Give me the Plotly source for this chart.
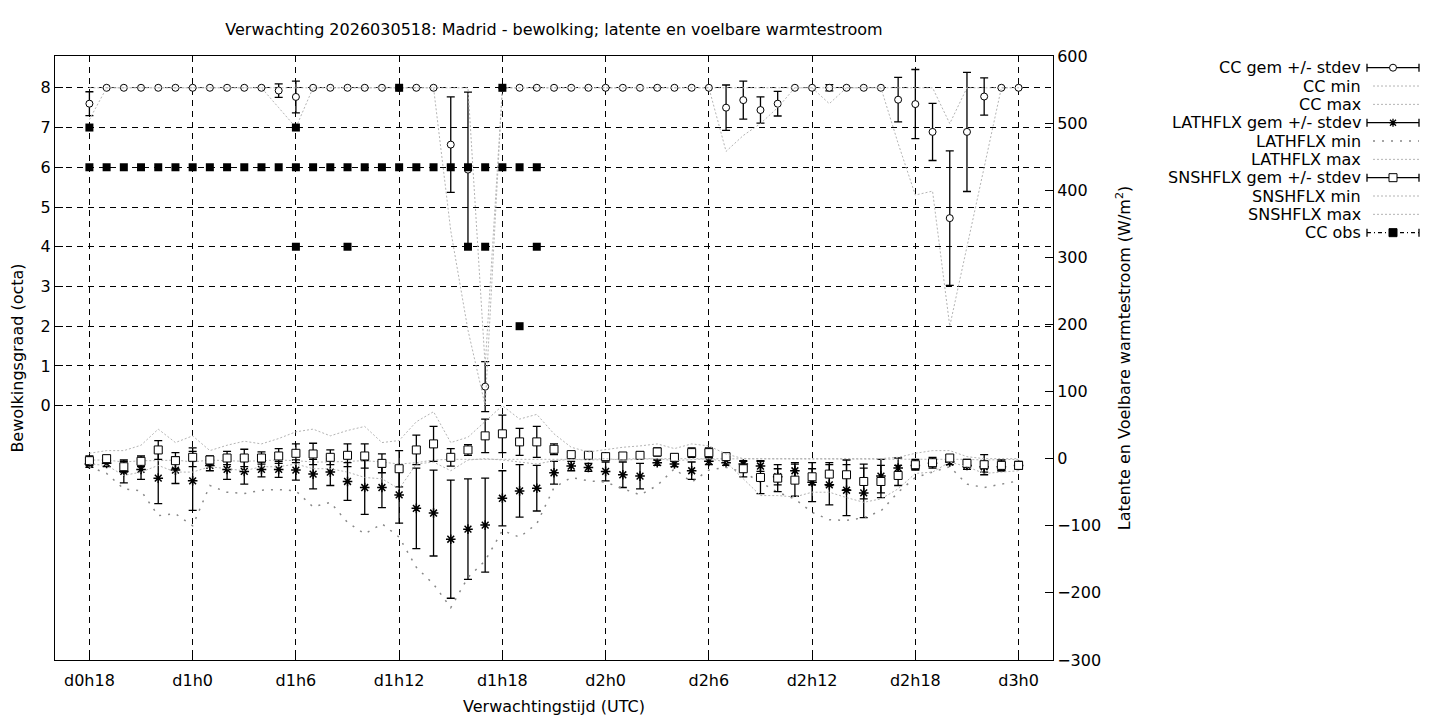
"""Ensemble-verwachting bewolking en warmtestroom, Madrid."""
import plotly.graph_objects as go

# uren sinds d0h0
uur = [18, 19, 20, 21, 22, 23,
       24, 25, 26, 27, 28, 29,
       30, 31, 32, 33, 34, 35,
       36, 37, 38, 39, 40, 41,
       42, 43, 44, 45, 46, 47,
       48, 49, 50, 51, 52, 53,
       54, 55, 56, 57, 58, 59,
       60, 61, 62, 63, 64, 65,
       66, 67, 68, 69, 70, 71,
       72]

tijd_ticks = [18, 24, 30, 36, 42, 48, 54, 60, 66, 72]
tijd_labels = ["d0h18", "d1h0", "d1h6", "d1h12", "d1h18",
               "d2h0", "d2h6", "d2h12", "d2h18", "d3h0"]
octa_ticks = [0, 1, 2, 3, 4, 5, 6, 7, 8]
flux_ticks = [-300, -200, -100, 0, 100, 200, 300, 400, 500, 600]

# bewolking (octa)
cc_gem = [7.6, 8, 8, 8, 8, 8,
          8, 8, 8, 8, 8, 7.93,
          7.77, 8, 8, 8, 8, 8,
          8, 8, 8, 6.57, 5.94, 0.48,
          8, 8, 8, 8, 8, 8,
          8, 8, 8, 8, 8, 8,
          8, 7.5, 7.69, 7.44, 7.6, 8,
          8, 8, 8, 8, 8, 7.7,
          7.59, 6.89, 4.72, 6.89, 7.78, 8,
          8]
cc_sd = [0.3, 0, 0, 0, 0, 0,
         0, 0, 0, 0, 0, 0.17,
         0.4, 0, 0, 0, 0, 0,
         0, 0, 0, 1.2, 1.95, 0.63,
         0, 0, 0, 0, 0, 0,
         0, 0, 0, 0, 0, 0,
         0, 0.57, 0.48, 0.33, 0.31, 0,
         0, 0.08, 0, 0, 0, 0.56,
         0.87, 0.72, 1.69, 1.5, 0.47, 0,
         0]
cc_min = [7.2, 8, 8, 8, 8, 8,
          8, 8, 8, 8, 8, 7.5,
          7.0, 8, 8, 8, 8, 8,
          8, 8, 8, 4.4, 1.9, 0,
          8, 8, 8, 8, 8, 8,
          8, 8, 8, 8, 8, 8,
          8, 6.4, 6.8, 7.1, 7.5, 8,
          8, 7.6, 8, 8, 8, 6.6,
          5.3, 5.4, 2.0, 4.0, 6.0, 8,
          8]
cc_max = [8, 8, 8, 8, 8, 8,
          8, 8, 8, 8, 8, 8,
          8, 8, 8, 8, 8, 8,
          8, 8, 8, 8, 8, 1.0,
          8, 8, 8, 8, 8, 8,
          8, 8, 8, 8, 8, 8,
          8, 8, 8, 8, 8, 8,
          8, 8, 8, 8, 8, 8,
          8, 8, 7.1, 8, 8, 8,
          8]

# waarnemingen (meerdere per uur mogelijk)
obs_uur = [18, 18, 19, 20, 21, 22, 23, 24, 25, 26, 27, 28, 29,
           30, 30, 30, 31, 32, 33, 33, 34, 35, 36, 36, 37, 38, 39,
           40, 40, 41, 41, 42, 42, 43, 43, 44, 44]
obs_cc = [7, 6, 6, 6, 6, 6, 6, 6, 6, 6, 6, 6, 6,
          7, 6, 4, 6, 6, 6, 4, 6, 6, 8, 6, 6, 6, 6,
          6, 4, 6, 4, 8, 6, 6, 2, 6, 4]

# latente warmtestroom (W/m2)
lat_gem = [-8, -7, -19, -16, -29, -17,
           -33, -10, -16, -19, -16, -16,
           -17, -23, -20, -34, -43, -43,
           -54, -74, -81, -120, -105, -99,
           -59, -48, -44, -21, -11, -13,
           -19, -24, -26, -6, -8, -18,
           -4, -6, -8, -11, -27, -18,
           -35, -39, -47, -51, -26, -14,
           -10, -7, -5, -10, -12, -12,
           -10]
lat_sd = [5, 5, 17, 15, 38, 20,
          44, 8, 15, 19, 11, 12,
          15, 22, 20, 28, 40, 30,
          42, 60, 64, 88, 75, 70,
          41, 39, 34, 17, 7, 6,
          14, 19, 19, 4, 4, 13,
          5, 4, 4, 8, 12, 12,
          29, 30, 38, 37, 25, 15,
          6, 5, 4, 6, 8, 6,
          5]
lat_min = [-12, -22, -45, -48, -85, -82,
           -100, -40, -50, -52, -47, -46,
           -48, -72, -65, -95, -112, -97,
           -117, -162, -187, -222, -177, -152,
           -107, -117, -97, -43, -28, -33,
           -35, -45, -54, -40, -15, -35,
           -17, -13, -20, -35, -50, -60,
           -80, -91, -92, -88, -78, -50,
           -28, -20, -12, -38, -43, -38,
           -33]
lat_max = [-2, -2, -5, -3, -3, -2,
           -5, -2, -3, -4, -3, -2,
           -3, -5, -5, -4, -3, -5,
           -8, -6, -2, -1, -1, 0,
           0, 0, -1, 0, -1, -2,
           -1, 0, 0, 0, 0, 0,
           0, 0, 0, 0, 0, 0,
           0, 0, -1, -1, 0, 0,
           -1, -1, 0, -1, -2, -2,
           -1]

# voelbare warmtestroom (W/m2)
sns_gem = [-3, 0, -12, -4, 13, -3,
           2, -2, 1, 1, 1, 4,
           8, 7, 2, 5, 4, -7,
           -15, 13, 22, 2, 13, 34,
           37, 25, 25, 14, 6, 5,
           3, 4, 5, 10, 2, 9,
           9, 3, -15, -28, -29, -32,
           -27, -23, -24, -34, -34, -25,
           -9, -6, 1, -7, -9, -10,
           -10]
sns_sd = [7, 5, 8, 8, 14, 12,
          14, 6, 10, 13, 9, 11,
          14, 16, 11, 17, 18, 14,
          27, 22, 26, 13, 8, 25,
          28, 20, 23, 8, 3, 3,
          4, 5, 5, 6, 5, 7,
          7, 3, 12, 24, 20, 24,
          12, 17, 22, 26, 24, 15,
          8, 8, 4, 6, 15, 8,
          6]
sns_min = [-8, -10, -25, -20, -10, -20,
           -20, -12, -15, -18, -12, -12,
           -8, -15, -15, -20, -28, -30,
           -45, -8, -5, -18, -2, 0,
           -2, -5, -8, -3, -1, -1,
           0, -2, -1, 0, -3, -2,
           0, -5, -30, -55, -55, -57,
           -50, -50, -58, -65, -60, -45,
           -22, -20, -5, -12, -22, -20,
           -18]
sns_max = [8, 12, 12, 20, 44, 24,
           34, 12, 20, 26, 22, 30,
           40, 44, 34, 42, 48, 24,
           27, 55, 70, 24, 32, 56,
           79, 59, 66, 37, 17, 10,
           14, 17, 19, 22, 15, 22,
           19, 7, 0, 0, 0, 0,
           0, 0, 0, 0, 0, 2,
           8, 12, 12, 3, 0, 0,
           0]

# de pagina heeft 8px body-marge, dus figuur iets kleiner en marges verschoven
PAGINA = 8
W, H = 1424, 712
ML, MT = 47, 48
PW, PH = 998, 604
MR, MB = W - ML - PW, H - MT - PH
FONT = "DejaVu Sans"
FS = 16
GRIJS = "#b4b4b4"
FIJN = "2px,2px"


def gem_trace(y, sd, marker, yaxis):
    return go.Scatter(
        x=uur, y=y, mode="markers", yaxis=yaxis,
        marker=marker,
        error_y=dict(type="data", array=sd, visible=True,
                     color="black", thickness=1.3, width=4),
    )


def lijn_trace(y, yaxis, color=GRIJS, dash=FIJN, width=1):
    return go.Scatter(x=uur, y=y, mode="lines", yaxis=yaxis,
                      line=dict(color=color, width=width, dash=dash))


fig = go.Figure()
fig.add_trace(gem_trace(cc_gem, cc_sd, dict(symbol="circle", size=7, color="white",
                                            line=dict(color="black", width=1)), "y"))
fig.add_trace(lijn_trace(cc_min, "y"))
fig.add_trace(lijn_trace(cc_max, "y"))
fig.add_trace(gem_trace(lat_gem, lat_sd, dict(symbol="asterisk-open", size=8, color="black",
                                              line=dict(color="black", width=1.5)), "y2"))
fig.add_trace(lijn_trace(lat_min, "y2", color="#888888", dash="2px,7px", width=1.5))
fig.add_trace(lijn_trace(lat_max, "y2"))
fig.add_trace(gem_trace(sns_gem, sns_sd, dict(symbol="square", size=8, color="white",
                                              line=dict(color="black", width=1)), "y2"))
fig.add_trace(lijn_trace(sns_min, "y2"))
fig.add_trace(lijn_trace(sns_max, "y2"))
fig.add_trace(go.Scatter(x=obs_uur, y=obs_cc, mode="markers", yaxis="y",
                         marker=dict(symbol="square", size=8, color="black")))

as_stijl = dict(showline=True, linecolor="black", linewidth=1, zeroline=False,
                ticks="inside", ticklen=8, tickcolor="black",
                tickfont=dict(family=FONT, size=FS, color="black"),
                title_font=dict(family=FONT, size=FS, color="black"))
grid = dict(showgrid=True, gridcolor="black", gridwidth=1, griddash="6px,5px")

fig.update_layout(
    width=W, height=H,
    template="none",
    showlegend=False,
    paper_bgcolor="white", plot_bgcolor="white",
    margin=dict(l=ML, r=MR, t=MT, b=MB),
    font=dict(family=FONT, size=FS, color="black"),
    title=dict(text="Verwachting 2026030518: Madrid - bewolking; latente en voelbare warmtestroom",
               x=0.5, xref="paper", xanchor="center",
               y=1 - (29 - PAGINA) / H, yref="container", yanchor="middle",
               font=dict(family=FONT, size=FS, color="black")),
    xaxis=dict(range=[16, 74], tickvals=tijd_ticks, ticktext=tijd_labels,
               mirror=True, ticklabelstandoff=6,
               automargin=False, **as_stijl, **grid),
    yaxis=dict(range=[-6.4, 8.8], tickvals=octa_ticks,
               title=dict(text="Bewolkingsgraad (octa)", standoff=14),
               automargin=False, **as_stijl, **grid),
    yaxis2=dict(range=[-300, 600], tickvals=flux_ticks, overlaying="y", side="right",
                showgrid=False, automargin=False,
                title=dict(text="Latente en Voelbare warmtestroom (W/m<sup>2</sup>)", standoff=18),
                **as_stijl),
)


# posities in paginapixels omrekenen naar paper-coordinaten
def px(xp):
    return (xp - PAGINA - ML) / PW


def py(yp):
    return (H - MB - (yp - PAGINA)) / PH


fig.add_annotation(x=0.5, y=py(706), xref="paper", yref="paper",
                   text="Verwachtingstijd (UTC)", showarrow=False,
                   xanchor="center", yanchor="middle",
                   font=dict(family=FONT, size=FS, color="black"))

# legenda in gnuplot-stijl: tekst rechts uitgelijnd, voorbeeld erachter
tekst_x = px(1363)
x0, x1, xm = px(1367), px(1419), px(1393)
rij_y0, rij_stap = 67.7, 18.33

legenda = [
    ("CC gem +/- stdev", "fout", "circle"),
    ("CC min", "fijn", None),
    ("CC max", "fijn", None),
    ("LATHFLX gem +/- stdev", "fout", "asterisk"),
    ("LATHFLX min", "grof", None),
    ("LATHFLX max", "fijn", None),
    ("SNSHFLX gem +/- stdev", "fout", "square"),
    ("SNSHFLX min", "fijn", None),
    ("SNSHFLX max", "fijn", None),
    ("CC obs", "obs", "filled"),
]

for i, (label, stijl, symbool) in enumerate(legenda):
    y = py(rij_y0 + i * rij_stap)
    fig.add_annotation(x=tekst_x, y=y, xref="paper", yref="paper", text=label,
                       showarrow=False, xanchor="right", yanchor="middle",
                       font=dict(family=FONT, size=FS, color="black"))
    if stijl in ("fout", "obs"):
        dash = "solid" if stijl == "fout" else "4px,3px,1px,3px"
        fig.add_shape(type="line", xref="paper", yref="paper", x0=x0, x1=x1, y0=y, y1=y,
                      line=dict(color="black", width=1.3, dash=dash))
        for xc in (x0, x1):
            fig.add_shape(type="line", xref="paper", yref="paper", x0=xc, x1=xc,
                          ysizemode="pixel", yanchor=y, y0=-4, y1=4,
                          line=dict(color="black", width=1.3))
        if symbool == "circle":
            fig.add_shape(type="circle", xref="paper", yref="paper",
                          xsizemode="pixel", ysizemode="pixel", xanchor=xm, yanchor=y,
                          x0=-3.5, x1=3.5, y0=-3.5, y1=3.5,
                          fillcolor="white", line=dict(color="black", width=1))
        elif symbool == "asterisk":
            fig.add_shape(type="path", xref="paper", yref="paper",
                          xsizemode="pixel", ysizemode="pixel", xanchor=xm, yanchor=y,
                          path="M-4,0L4,0M0,-4L0,4M-3,-3L3,3M-3,3L3,-3",
                          line=dict(color="black", width=1.3))
        else:
            fig.add_shape(type="rect", xref="paper", yref="paper",
                          xsizemode="pixel", ysizemode="pixel", xanchor=xm, yanchor=y,
                          x0=-4, x1=4, y0=-4, y1=4,
                          fillcolor="white" if symbool == "square" else "black",
                          line=dict(color="black", width=1))
    else:
        kleur, d, bw = (GRIJS, FIJN, 1) if stijl == "fijn" else ("#888888", "2px,7px", 1.5)
        fig.add_shape(type="line", xref="paper", yref="paper", x0=px(1373), x1=x1, y0=y, y1=y,
                      line=dict(color=kleur, width=bw, dash=d))

fig.write_html("out.html")
